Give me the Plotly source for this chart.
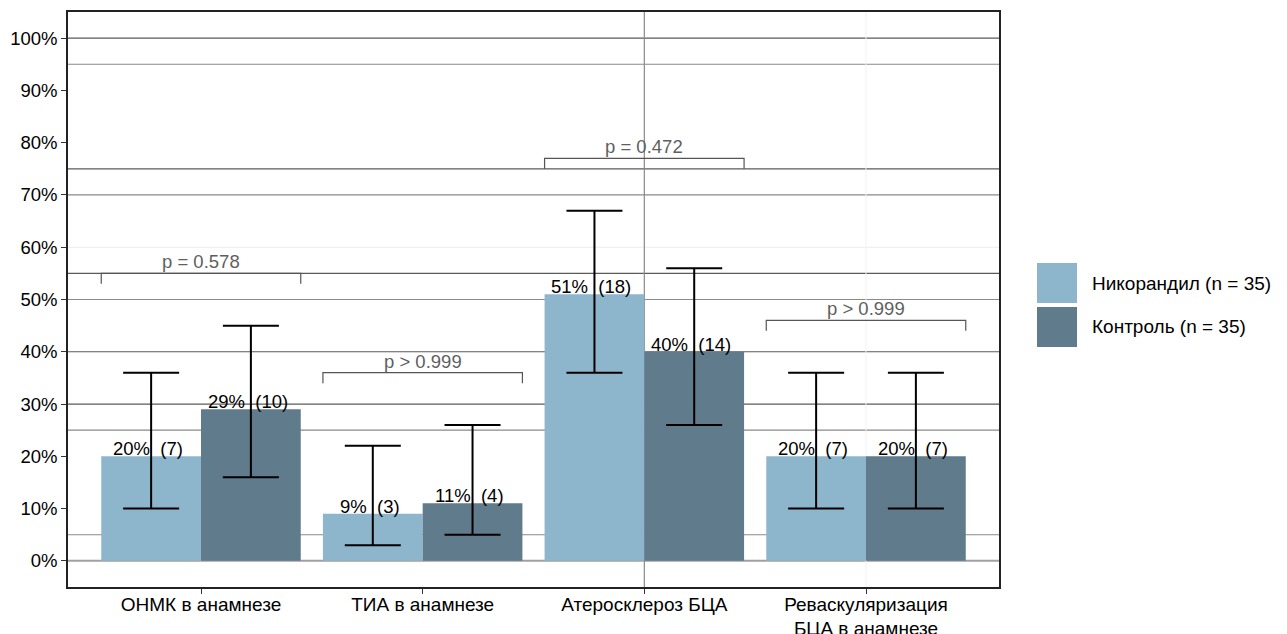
import plotly.graph_objects as go

# ---- data ----
categories = ["ОНМК в анамнезе", "ТИА в анамнезе", "Атеросклероз БЦА",
              "Реваскуляризация<br>БЦА в анамнезе"]
group_names = ["Никорандил (n = 35)", "Контроль (n = 35)"]
nik_pct = [20, 9, 51, 20]
nik_n = [7, 3, 18, 7]
nik_lo = [10, 3, 36, 10]
nik_hi = [36, 22, 67, 36]
ctl_pct = [29, 11, 40, 20]
ctl_n = [10, 4, 14, 7]
ctl_lo = [16, 5, 26, 10]
ctl_hi = [45, 26, 56, 36]
p_values = ["p = 0.578", "p > 0.999", "p = 0.472", "p > 0.999"]
y_ticks = [0, 10, 20, 30, 40, 50, 60, 70, 80, 90, 100]

# horizontal rules as seen in the picture
grid_dark = [100, 75, 55, 40, 30]
grid_mid = [95, 70, 50, 25, 5]
grid_faint = [60]

# ---- style ----
FONT = "Liberation Sans, Arial, sans-serif"
C_LIGHT = "#8DB6CD"
C_DARK = "#607B8B"

# the page body has an 8px margin; compensate so the panel lands where wanted
BODY = 8
W, H = 1287 - BODY, 634 - BODY
PX0, PX1, PY0, PY1 = 68, 999, 12, 587   # panel in window pixels

xpos = list(range(1, len(categories) + 1))
DODGE = 0.225

fig = go.Figure()

series = [
    (group_names[0], nik_pct, nik_n, nik_lo, nik_hi, C_LIGHT, -DODGE),
    (group_names[1], ctl_pct, ctl_n, ctl_lo, ctl_hi, C_DARK, DODGE),
]

for name, pct, n, lo, hi, col, off in series:
    fig.add_trace(go.Bar(
        x=xpos, y=pct, name=name, marker=dict(color=col, line=dict(width=0)),
        error_y=dict(type="data", symmetric=False,
                     array=[h - p for h, p in zip(hi, pct)],
                     arrayminus=[p - l for l, p in zip(lo, pct)],
                     color="black", thickness=2, width=28),
        showlegend=False,
    ))

shapes = []
for v in grid_dark:
    shapes.append(dict(type="line", xref="paper", x0=0, x1=1, yref="y", y0=v, y1=v,
                       line=dict(color="#5a5a5a", width=1.2), layer="below"))
for v in grid_mid:
    shapes.append(dict(type="line", xref="paper", x0=0, x1=1, yref="y", y0=v, y1=v,
                       line=dict(color="#8a8a8a", width=1.2), layer="below"))
for v in grid_faint:
    shapes.append(dict(type="line", xref="paper", x0=0, x1=1, yref="y", y0=v, y1=v,
                       line=dict(color="#ececec", width=1), layer="below"))
shapes.append(dict(type="line", xref="paper", x0=0, x1=1, yref="y", y0=0, y1=0,
                   line=dict(color="#a0a0a0", width=2), layer="below"))
shapes.append(dict(type="line", xref="x", x0=xpos[2], x1=xpos[2], yref="paper", y0=0, y1=1,
                   line=dict(color="#8a8a8a", width=1.2), layer="below"))
shapes.append(dict(type="line", xref="x", x0=xpos[3], x1=xpos[3], yref="paper", y0=0, y1=1,
                   line=dict(color="#f2f2f2", width=1), layer="below"))

annotations = []
for name, pct, n, lo, hi, col, off in series:
    for x, p, k in zip(xpos, pct, n):
        annotations.append(dict(
            x=x + off, y=p, xref="x", yref="y", text=f"{p}%  ({k})",
            showarrow=False, yanchor="bottom", xanchor="center", xshift=-3, yshift=-5,
            font=dict(family=FONT, size=18.5, color="black")))

for x, pv, h1, h2 in zip(xpos, p_values, nik_hi, ctl_hi):
    top = max(h1, h2) + 10
    left, right = x - 0.45, x + 0.45
    fig.add_trace(go.Scatter(
        x=[left, left, right, right], y=[top - 2, top, top, top - 2],
        mode="lines", line=dict(color="#555555", width=1.2),
        showlegend=False, hoverinfo="skip"))
    annotations.append(dict(
        x=x, y=top, xref="x", yref="y", text=pv, showarrow=False,
        yanchor="bottom", xanchor="center", yshift=-1,
        font=dict(family=FONT, size=18.5, color="#5f5f5f")))

leg_items = [(group_names[0], C_LIGHT, 263), (group_names[1], C_DARK, 307)]
def px_x(px):
    return (px - PX0) / (PX1 - PX0)
def px_y(py):
    return (PY1 - py) / (PY1 - PY0)
for label, col, top_px in leg_items:
    shapes.append(dict(type="rect", xref="paper", yref="paper",
                       x0=px_x(1037), x1=px_x(1077), y0=px_y(top_px + 40), y1=px_y(top_px),
                       fillcolor=col, line=dict(width=0)))
    annotations.append(dict(x=px_x(1090), y=px_y(top_px + 20), xref="paper", yref="paper",
                            text=label, showarrow=False, xanchor="left", yanchor="middle",
                            font=dict(family=FONT, size=19, color="black")))

fig.update_layout(
    width=W, height=H,
    margin=dict(l=PX0 - BODY, r=W - (PX1 - BODY), t=PY0 - BODY, b=H - (PY1 - BODY), pad=0),
    plot_bgcolor="white", paper_bgcolor="white",
    barmode="group", bargap=0.1, bargroupgap=0,
    shapes=shapes, annotations=annotations,
    font=dict(family=FONT, size=18, color="black"),
    xaxis=dict(range=[0.4, 4.6], tickvals=xpos, ticktext=categories,
               showgrid=False, zeroline=False, automargin=False,
               showline=True, mirror=True, linecolor="#222", linewidth=1.5,
               ticks="outside", ticklen=5, tickcolor="#333", ticklabelstandoff=-6,
               tickfont=dict(family=FONT, size=19, color="black")),
    yaxis=dict(range=[-5, 105], tickvals=y_ticks, ticktext=[f"{v}%" for v in y_ticks],
               showgrid=False, zeroline=False, automargin=False,
               showline=True, mirror=True, linecolor="#222", linewidth=1.5,
               ticks="outside", ticklen=5, tickcolor="#333",
               tickfont=dict(family=FONT, size=18.5, color="black")),
)

fig.write_html("out.html")
